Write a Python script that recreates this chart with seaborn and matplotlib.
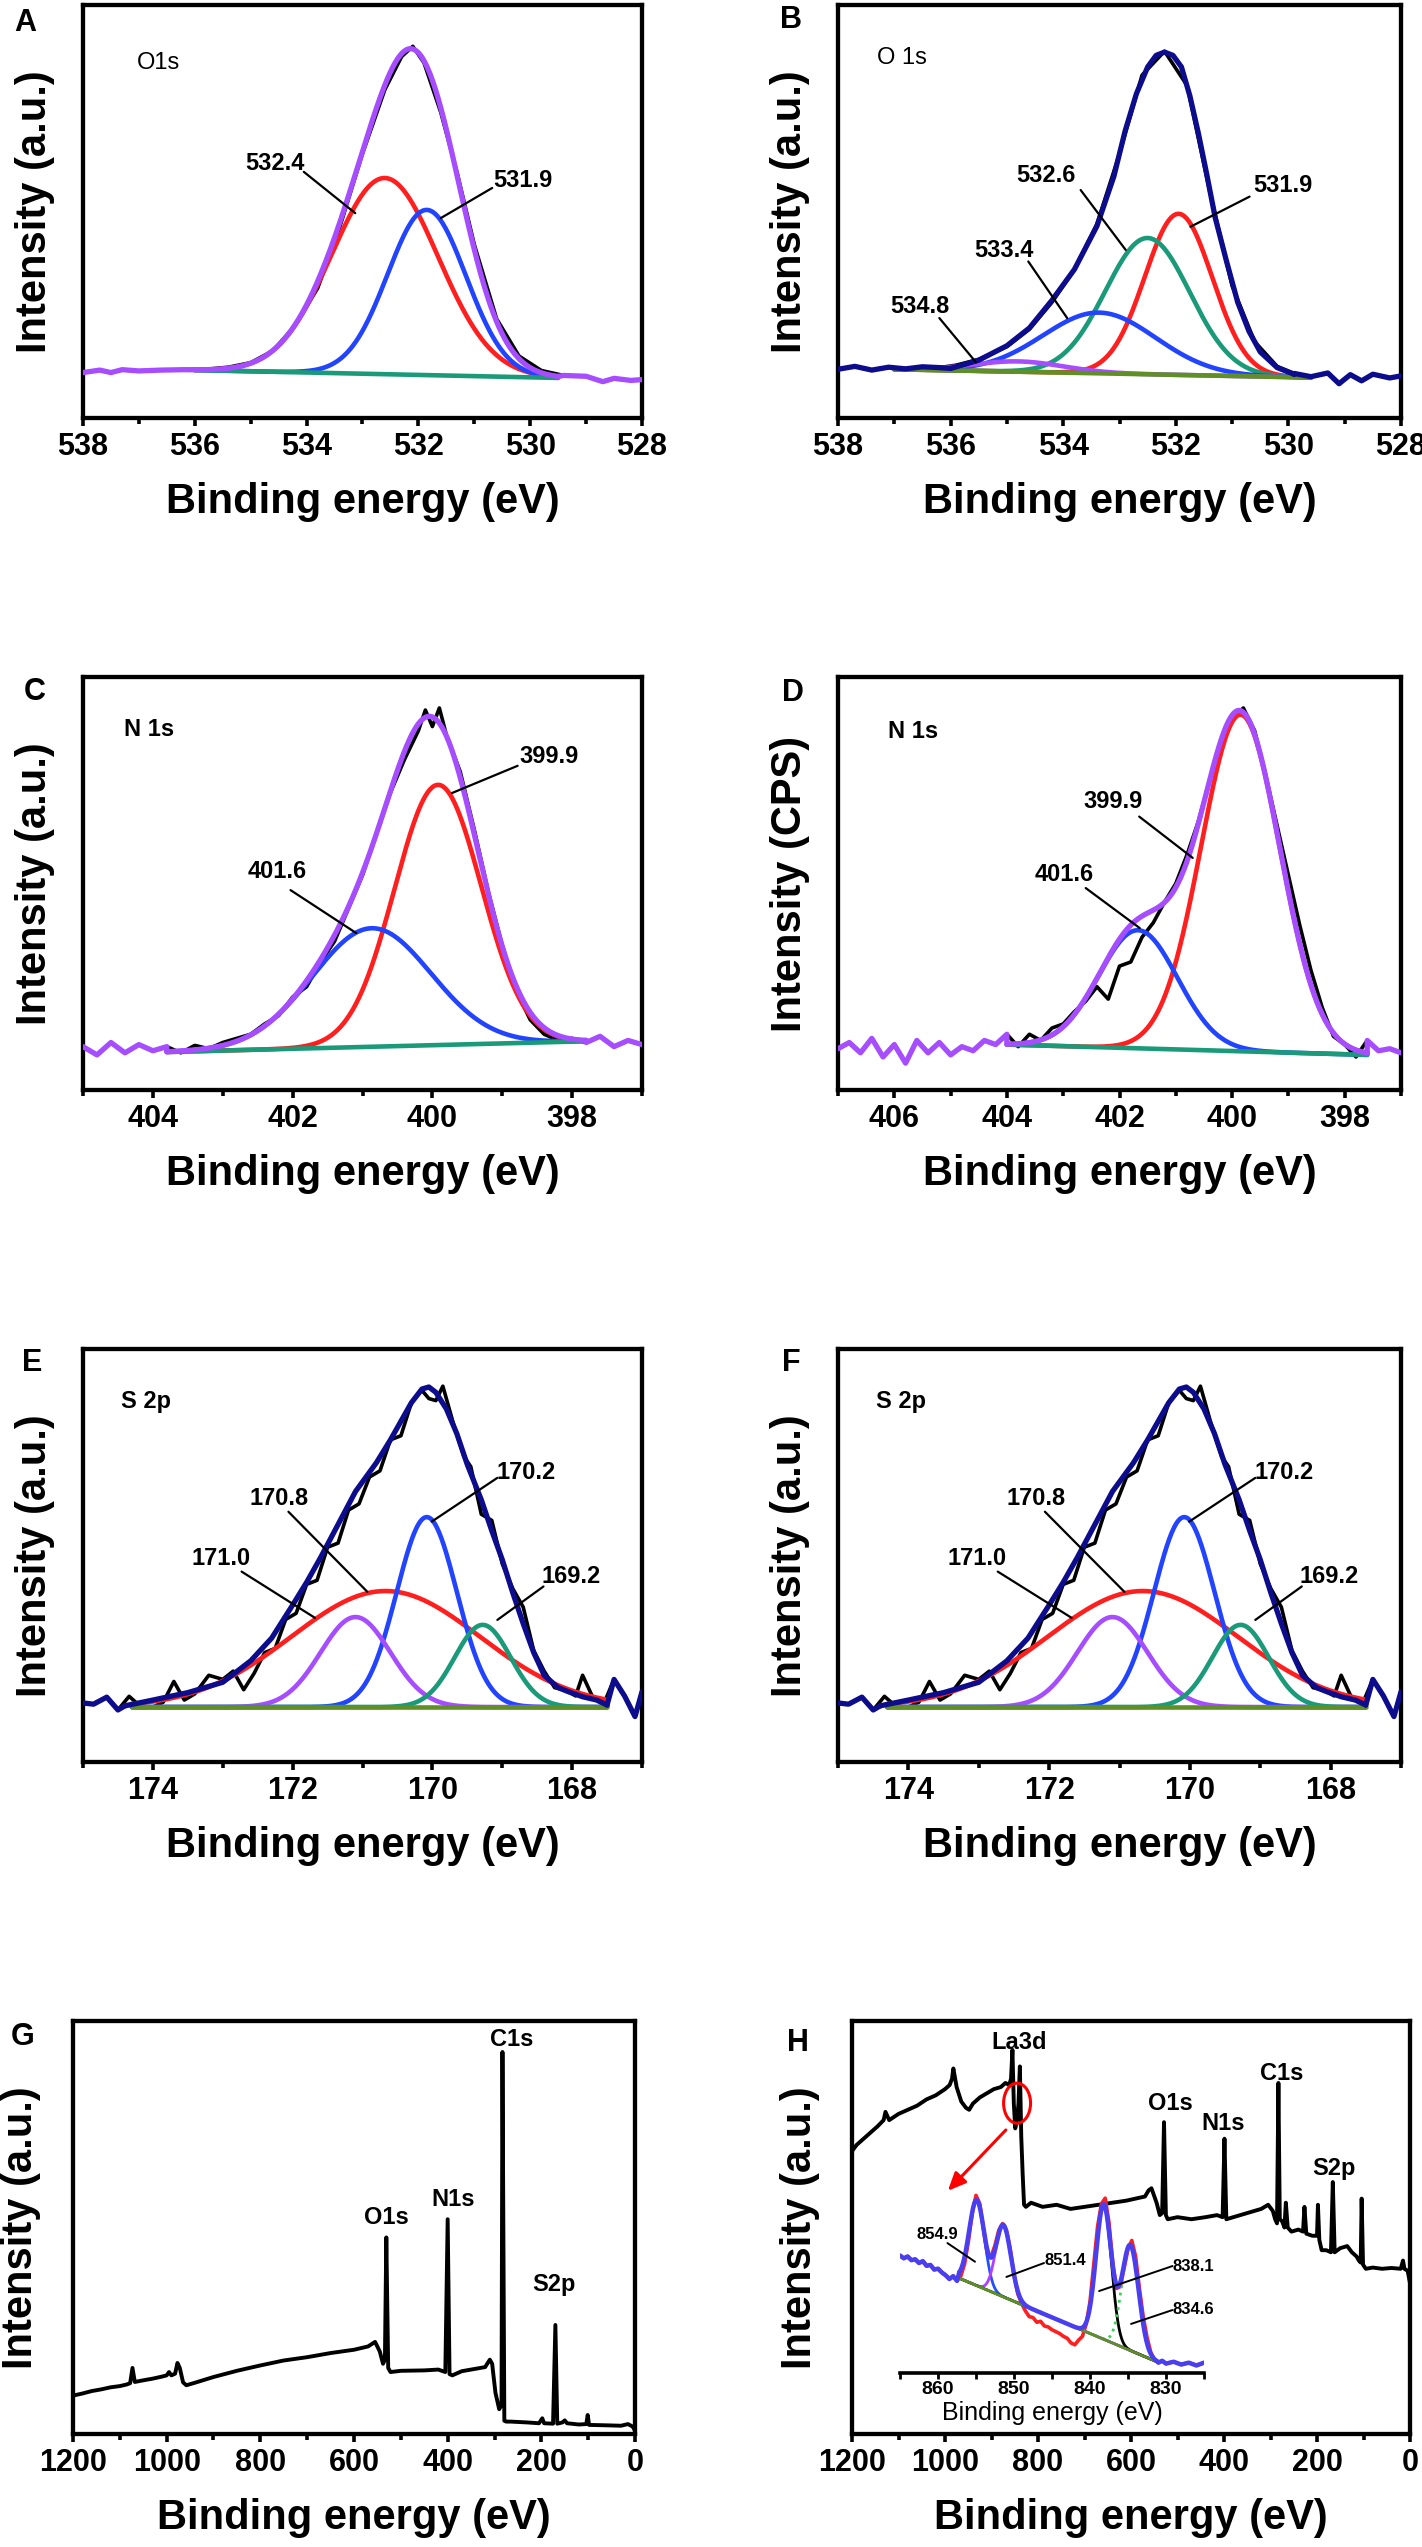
import numpy as np
import seaborn as sns
import matplotlib.pyplot as plt
from matplotlib.ticker import MultipleLocator
from matplotlib.patches import Ellipse

# Values.
# Energies in eV, intensities in percent of each panel's height.

# ---- A: O1s ----
a_raw = [(538.0, 11.0), (537.7, 11.6), (537.5, 11.0), (537.3, 11.7), (537.0, 11.4),
         (536.6, 11.6), (536.2, 11.7), (535.8, 11.8), (535.4, 12.3), (535.0, 13.4),
         (534.6, 16.3), (534.2, 22.5), (533.8, 31.5), (533.4, 46.5), (533.0, 64.0),
         (532.6, 79.5), (532.3, 87.5), (532.1, 90.0), (531.9, 86.0), (531.6, 74.0),
         (531.3, 59.0), (531.0, 42.0), (530.6, 24.0), (530.2, 15.0), (529.8, 11.5),
         (529.4, 10.3), (529.0, 10.1), (528.7, 8.8), (528.5, 9.6), (528.2, 9.1), (528.0, 9.3)]
a_labels = ['532.4', '531.9']
a_center = [532.6, 531.85]
a_height = [47.5, 40.0]
a_sigma = [0.95, 0.70]
a_base_x = [536.0, 529.5]
a_base_y = [11.6, 9.7]

# ---- B: O 1s ----
b_raw = [(538.0, 11.8), (537.7, 12.5), (537.4, 11.6), (537.1, 12.3), (536.8, 11.9),
         (536.5, 12.4), (536.2, 12.2), (535.9, 12.8), (535.5, 14.2), (535.0, 17.3),
         (534.6, 21.5), (534.2, 28.0), (533.8, 36.0), (533.4, 47.0), (533.0, 64.0),
         (532.6, 83.0), (532.2, 88.8), (531.8, 80.5), (531.4, 55.0), (531.0, 32.0),
         (530.6, 18.5), (530.2, 12.5), (529.9, 10.8), (529.6, 10.0), (529.3, 10.9),
         (529.1, 8.3), (528.9, 10.5), (528.7, 9.0), (528.5, 10.6), (528.2, 9.7), (528.0, 10.2)]
b_env = [(536.0, 12.0), (535.5, 14.0), (535.0, 17.5), (534.6, 21.8), (534.2, 28.5),
         (533.8, 36.0), (533.4, 46.5), (533.1, 58.5), (532.9, 69.5), (532.7, 78.5),
         (532.5, 85.0), (532.35, 87.8), (532.2, 88.6), (532.05, 87.8), (531.9, 85.0),
         (531.75, 78.0), (531.6, 69.0), (531.45, 59.0), (531.3, 48.5), (531.1, 38.0),
         (530.9, 28.0), (530.7, 21.0), (530.5, 16.0), (530.2, 12.2), (529.9, 10.6)]
b_labels = ['531.9', '532.6', '533.4', '534.8']
b_center = [531.95, 532.5, 533.36, 534.8]
b_height = [39.0, 33.0, 14.7, 2.5]
b_sigma = [0.60, 0.75, 1.00, 0.80]
b_base_x = [537.0, 529.6]
b_base_y = [11.8, 9.8]

# ---- C: N 1s ----
c_raw = [(405.0, 10.5), (404.8, 8.5), (404.6, 11.5), (404.4, 9.0), (404.2, 11.0),
         (404.0, 9.5), (403.8, 10.5), (403.6, 9.0), (403.4, 10.8), (403.2, 10.0),
         (403.0, 11.5), (402.8, 12.5), (402.6, 13.5), (402.4, 16.0), (402.2, 18.0),
         (402.0, 22.5), (401.8, 25.0), (401.6, 31.0), (401.4, 36.0), (401.2, 44.0),
         (401.0, 52.0), (400.8, 62.0), (400.6, 72.0), (400.4, 80.0), (400.2, 87.0),
         (400.1, 92.0), (400.0, 88.0), (399.9, 92.5), (399.8, 86.0), (399.6, 77.0),
         (399.4, 63.0), (399.2, 48.0), (399.0, 35.0), (398.8, 24.0), (398.6, 17.0),
         (398.4, 13.5), (398.2, 12.0), (398.0, 12.5), (397.8, 11.5), (397.6, 13.0),
         (397.4, 10.5), (397.2, 12.0), (397.0, 11.0)]
c_labels = ['399.9', '401.6']
c_center = [399.92, 400.87]
c_height = [63.0, 28.7]
c_sigma = [0.62, 0.85]
c_base_x = [403.8, 397.8]
c_base_y = [9.2, 11.8]

# ---- D: N 1s ----
d_raw = [(407.0, 10.0), (406.8, 11.5), (406.6, 9.0), (406.4, 12.5), (406.2, 8.0),
         (406.0, 11.0), (405.8, 6.5), (405.6, 12.0), (405.4, 9.0), (405.2, 11.5),
         (405.0, 8.5), (404.8, 10.5), (404.6, 9.5), (404.4, 12.0), (404.2, 11.0),
         (404.0, 13.5), (403.8, 10.5), (403.6, 13.5), (403.4, 12.0), (403.2, 15.0),
         (403.0, 16.0), (402.8, 19.0), (402.6, 21.5), (402.4, 25.0), (402.2, 22.0),
         (402.0, 30.0), (401.8, 31.0), (401.6, 37.0), (401.4, 40.5), (401.2, 45.5),
         (401.0, 50.0), (400.8, 57.0), (400.6, 65.0), (400.4, 75.0), (400.2, 84.0),
         (400.0, 90.0), (399.8, 92.5), (399.6, 87.0), (399.4, 76.0), (399.2, 64.0),
         (399.0, 52.0), (398.8, 40.0), (398.6, 29.0), (398.4, 20.0), (398.2, 13.0),
         (398.0, 11.0), (397.8, 8.0), (397.6, 12.0), (397.4, 9.5), (397.2, 10.0), (397.0, 9.0)]
d_labels = ['399.9', '401.6']
d_center = [399.85, 401.67]
d_height = [81.5, 28.6]
d_sigma = [0.70, 0.70]
d_base_x = [404.0, 397.6]
d_base_y = [11.0, 8.5]

# ---- E / F: S 2p (the two panels show the same spectrum) ----
e_raw = [(175.0, 14.3), (174.85, 14.0), (174.66, 15.7), (174.5, 12.6), (174.34, 15.9),
         (174.18, 13.5), (174.0, 13.3), (173.85, 14.5), (173.7, 19.5), (173.55, 15.0),
         (173.4, 16.5), (173.2, 21.0), (173.0, 20.0), (172.85, 22.0), (172.7, 17.5),
         (172.55, 21.5), (172.4, 26.5), (172.25, 27.5), (172.1, 34.5), (171.95, 36.0),
         (171.8, 43.0), (171.65, 44.0), (171.5, 52.0), (171.35, 53.0), (171.2, 61.0),
         (171.05, 62.5), (170.9, 69.0), (170.75, 70.5), (170.6, 78.0), (170.45, 79.0),
         (170.3, 87.0), (170.15, 90.0), (170.05, 88.0), (169.95, 87.5), (169.85, 91.0),
         (169.7, 82.0), (169.55, 74.0), (169.45, 71.5), (169.3, 60.0), (169.15, 58.5),
         (169.0, 48.0), (168.85, 42.0), (168.7, 37.5), (168.55, 27.0), (168.4, 22.0),
         (168.25, 18.0), (168.1, 17.5), (167.95, 16.0), (167.85, 21.0), (167.7, 15.5),
         (167.55, 14.0), (167.4, 20.0), (167.25, 16.0), (167.1, 11.0), (167.0, 17.0)]
e_env = [(174.4, 13.6), (174.0, 15.0), (173.5, 16.8), (173.0, 19.3), (172.6, 24.5),
         (172.3, 30.0), (172.0, 38.0), (171.8, 43.5), (171.6, 49.5), (171.35, 57.5),
         (171.1, 65.5), (170.8, 72.5), (170.6, 78.0), (170.45, 82.5), (170.3, 87.0),
         (170.15, 90.3), (170.05, 90.8), (169.95, 89.5), (169.8, 85.5), (169.65, 79.5),
         (169.5, 72.0), (169.3, 63.5), (169.15, 56.0), (169.0, 49.0), (168.85, 41.0),
         (168.7, 33.5), (168.55, 26.5), (168.4, 21.0), (168.2, 18.0), (168.05, 17.0),
         (167.85, 15.8), (167.65, 15.0), (167.5, 13.8)]
e_labels = ['170.8', '170.2', '171.0', '169.2']
e_center = [170.67, 170.08, 171.1, 169.28]
e_height = [28.1, 46.0, 21.8, 19.9]
e_sigma = [1.35, 0.43, 0.50, 0.40]
e_base_x = [174.3, 167.5]
e_base_y = [13.3, 13.3]
f_raw, f_env = e_raw, e_env

# ---- G: survey ----
g_survey = [(1200, 9.3), (1180, 9.8), (1160, 10.4), (1140, 10.8), (1120, 11.3), (1100, 11.6),
            (1085, 12.0), (1078, 12.3), (1073, 16.0), (1068, 12.6), (1050, 13.0), (1030, 13.4),
            (1010, 13.9), (1000, 14.2), (995, 15.0), (990, 14.2), (982, 14.6), (977, 17.2),
            (972, 16.0), (965, 12.5), (958, 11.8), (940, 12.4), (900, 13.8), (850, 15.3),
            (800, 16.6), (750, 17.8), (700, 18.6), (650, 19.6), (600, 20.4), (570, 21.2),
            (555, 22.3), (545, 20.0), (538, 17.0), (534, 18.0), (531, 47.6), (527, 16.0),
            (522, 15.0), (500, 15.3), (450, 15.4), (420, 15.6), (405, 15.0), (400, 52.0),
            (396, 14.5), (390, 14.2), (370, 15.2), (340, 15.8), (320, 16.2), (310, 18.0),
            (305, 17.0), (298, 10.0), (290, 6.0), (285, 7.0), (283, 92.5), (279, 3.2),
            (275, 3.0), (265, 3.0), (230, 2.8), (205, 2.6), (198, 3.8), (194, 2.6),
            (175, 2.5), (170, 26.4), (166, 2.5), (155, 2.8), (150, 3.3), (145, 2.6),
            (120, 2.3), (104, 2.4), (101, 4.6), (98, 2.2), (60, 2.1), (30, 2.0),
            (15, 2.4), (5, 1.8), (0, 0.8)]
g_peaks = ['O1s', 'N1s', 'C1s', 'S2p']

# ---- H: survey with La3d inset ----
h_survey = [(1200, 68.5), (1190, 70.0), (1175, 71.5), (1160, 73.0), (1145, 74.5), (1132, 76.0),
            (1128, 78.0), (1120, 76.0), (1100, 77.5), (1080, 78.5), (1060, 79.5), (1040, 81.0),
            (1020, 82.0), (1000, 83.5), (990, 84.5), (985, 86.0), (982, 88.5), (975, 84.0),
            (965, 80.5), (955, 79.0), (948, 78.5), (940, 80.0), (925, 81.5), (910, 82.5),
            (895, 83.5), (880, 84.0), (870, 85.0), (862, 84.5), (858, 86.0), (855, 93.0),
            (852, 80.0), (849, 74.0), (845, 76.0), (842, 80.0), (839, 89.0), (836, 72.0),
            (833, 63.0), (830, 55.5), (826, 55.0), (815, 56.0), (790, 55.0), (760, 55.5),
            (730, 54.5), (700, 55.0), (670, 55.5), (640, 56.0), (610, 56.5), (590, 57.0),
            (570, 57.5), (562, 59.0), (556, 59.5), (545, 56.0), (538, 53.0), (533, 53.5),
            (529, 75.5), (525, 53.0), (521, 52.0), (500, 52.5), (470, 52.0), (440, 52.5),
            (415, 53.0), (403, 52.5), (399, 71.5), (395, 52.0), (380, 52.5), (350, 53.5),
            (320, 54.5), (305, 55.5), (295, 54.0), (290, 52.0), (286, 51.0), (283, 85.0),
            (280, 52.0), (275, 51.5), (270, 50.0), (267, 56.0), (263, 50.0), (255, 49.0),
            (240, 49.5), (230, 49.0), (227, 55.0), (223, 48.5), (210, 48.0), (200, 48.0),
            (198, 55.5), (195, 47.0), (190, 44.5), (180, 44.5), (170, 44.0), (166, 61.0),
            (162, 44.0), (150, 45.0), (135, 45.5), (125, 44.0), (115, 43.0), (110, 42.0),
            (106, 41.5), (104, 57.0), (101, 41.0), (95, 40.0), (80, 40.3), (60, 40.0),
            (40, 40.2), (20, 40.0), (15, 42.0), (12, 40.0), (5, 39.5), (0, 36.5)]
h_peaks = ['La3d', 'O1s', 'N1s', 'C1s', 'S2p']

# La3d inset (percent of inset height)
la_raw = [(865.0, 62.5), (864.5, 61.0), (864.0, 62.0), (863.5, 60.0), (863.0, 60.5),
          (862.5, 58.5), (862.0, 59.5), (861.5, 57.0), (861.0, 57.5), (860.5, 55.0),
          (860.0, 55.5), (859.5, 53.5), (859.0, 52.0), (858.5, 50.0), (858.0, 51.5),
          (857.5, 49.0), (857.0, 51.5), (856.5, 58.0), (856.0, 70.0), (855.5, 85.0),
          (855.0, 94.5), (854.5, 90.0), (854.0, 76.0), (853.5, 63.0), (853.0, 62.0),
          (852.5, 68.0), (852.0, 76.0), (851.5, 79.5), (851.0, 76.0), (850.5, 66.0),
          (850.0, 52.0), (849.5, 42.0), (849.0, 37.0), (848.5, 33.0), (848.0, 30.0),
          (847.5, 29.5), (847.0, 27.0), (846.5, 27.5), (846.0, 25.0), (845.5, 24.5),
          (845.0, 23.0), (844.5, 22.0), (844.0, 21.0), (843.5, 19.5), (843.0, 18.5),
          (842.5, 16.0), (842.0, 15.0), (841.5, 17.5), (841.0, 19.5), (840.5, 26.0),
          (840.0, 38.0), (839.5, 58.0), (839.0, 78.0), (838.5, 90.0), (838.0, 93.0),
          (837.5, 80.0), (837.0, 58.0), (836.5, 45.0), (836.0, 46.0), (835.5, 56.0),
          (835.0, 66.0), (834.5, 70.5), (834.0, 62.0), (833.5, 45.0), (833.0, 30.0),
          (832.5, 19.0), (832.0, 11.0), (831.5, 7.0), (831.0, 5.5), (830.5, 6.5),
          (830.0, 5.0), (829.0, 6.0), (828.0, 4.5), (827.0, 5.5), (826.0, 4.0), (825.0, 5.5)]
la_labels = ['854.9', '851.4', '838.1', '834.6']
la_center = [854.9, 851.4, 838.2, 834.7]
la_height = [45.5, 38.2, 71.5, 56.0]
la_sigma = [1.0, 1.0, 1.0, 1.1]
la_base_x = [857.2, 831.2]
la_base_y = [50.4, 6.0]

# ---- colours ----
RED, BLUE, PURPLE = '#ff1f1f', '#2244ff', '#a64dff'
NAVY, TEAL, OLIVE = '#0c0c8c', '#1a9a78', '#5f8f25'

sns.set_theme(style='ticks')
plt.rcParams['font.family'] = ['Liberation Sans', 'DejaVu Sans']
plt.rcParams.update({'font.weight': 'bold', 'axes.labelweight': 'bold',
                     'text.color': 'black', 'axes.labelcolor': 'black',
                     'xtick.color': 'black', 'axes.edgecolor': 'black'})

W, H = 1422, 2547
fig = plt.figure(figsize=(W / 100, H / 100), dpi=100)


def box(x0, y0, x1, y1):
    return fig.add_axes([x0 / W, 1 - y1 / H, (x1 - x0) / W, (y1 - y0) / H])


def line(ax, x, y, color, lw, z=3, **kw):
    sns.lineplot(x=list(x), y=list(y), ax=ax, color=color, linewidth=lw,
                 estimator=None, sort=False, zorder=z, **kw)


def gauss(x, c, h, s):
    return h * np.exp(-(x - c) ** 2 / (2 * s * s))


def fit_panel(ax, raw, base_x, base_y, centers, heights, sigmas, colors, env_color,
              base_color, env=None, raw_color='black', raw_lw=2.6, comp_lw=3.3, env_lw=3.8,
              comp_styles=None):
    rx, ry = map(np.asarray, zip(*raw))
    line(ax, rx, ry, raw_color, raw_lw, z=2)
    lo, hi = min(base_x), max(base_x)
    grid = np.linspace(hi, lo, 400)
    order = np.argsort(base_x)
    base = np.interp(grid, np.asarray(base_x)[order], np.asarray(base_y)[order])
    total = base.copy()
    for i, (c, h, s, col) in enumerate(zip(centers, heights, sigmas, colors)):
        g = gauss(grid, c, h, s)
        total += g
        kw = {}
        if comp_styles and comp_styles[i]:
            kw['linestyle'] = comp_styles[i]
        line(ax, grid, base + g, col, comp_lw, z=3, **kw)
    line(ax, grid, base, base_color, comp_lw, z=3)
    if env is None:
        ex, ey = grid, total
    else:
        ex, ey = map(np.asarray, zip(*env))
    e_hi, e_lo = ex.max(), ex.min()
    left, right = rx >= e_hi, rx <= e_lo
    line(ax, np.r_[rx[left], e_hi], np.r_[ry[left], ey[ex.argmax()]], env_color, env_lw, z=4)
    line(ax, np.r_[e_lo, rx[right]], np.r_[ey[ex.argmin()], ry[right]], env_color, env_lw, z=4)
    line(ax, ex, ey, env_color, env_lw, z=4)


def style(ax, xlim, major, minor, ylabel, ylab_x=-0.086):
    ax.set_xlim(*xlim)
    ax.set_ylim(0, 100)
    ax.set_yticks([])
    ax.xaxis.set_major_locator(MultipleLocator(major))
    ax.xaxis.set_minor_locator(MultipleLocator(minor))
    ax.tick_params(axis='x', which='major', direction='out', length=6, width=2.6,
                   labelsize=22, pad=4, bottom=True, top=False, color='black')
    ax.tick_params(axis='x', which='minor', direction='out', length=4, width=2.6,
                   bottom=True, top=False, color='black')
    for sp in ax.spines.values():
        sp.set_visible(True)
        sp.set_linewidth(3.1)
        sp.set_color('black')
    ax.set_xlabel('Binding energy (eV)', fontsize=30, fontweight='bold')
    ax.set_ylabel(ylabel, fontsize=30, fontweight='bold')
    ax.xaxis.set_label_coords(0.5, -0.155)
    ax.yaxis.set_label_coords(ylab_x, 0.5)
    ax.yaxis.label.set_va('center')


def notes(ax, items, size=17, lw=1.6):
    for lab, tx, ty, x1, y1, x2, y2 in items:
        ax.text(tx, ty, lab, ha='center', va='center', fontsize=size,
                fontweight='bold', zorder=6)
        ax.plot([x1, x2], [y1, y2], color='black', lw=lw, zorder=6)


def letter(ch, x, y):
    fig.text(x / W, 1 - y / H, ch, ha='center', va='center', fontsize=22, fontweight='bold')


# ---- A ----
ax = box(83, 5, 642, 418)
fit_panel(ax, a_raw, a_base_x, a_base_y, a_center, a_height, a_sigma, [RED, BLUE],
          PURPLE, TEAL)
style(ax, (538, 528), 2, 1, 'Intensity (a.u.)')
ax.text(537.03, 85.9, 'O1s', ha='left', va='center', fontsize=17, fontweight='normal')
notes(ax, [(a_labels[0], 534.56, 61.7, 534.05, 59.6, 533.13, 49.6),
           (a_labels[1], 530.13, 57.6, 530.68, 55.7, 531.6, 48.4)])
letter('A', 25, 23)

# ---- B ----
ax = box(838, 5, 1401, 418)
fit_panel(ax, b_raw, b_base_x, b_base_y, b_center, b_height, b_sigma,
          [RED, TEAL, BLUE, PURPLE], NAVY, OLIVE, env=b_env)
style(ax, (538, 528), 2, 1, 'Intensity (a.u.)', ylab_x=-0.085)
ax.text(537.3, 87.1, 'O 1s', ha='left', va='center', fontsize=17, fontweight='normal')
notes(ax, [(b_labels[1], 534.3, 58.8, 533.69, 55.2, 532.89, 40.7),
           (b_labels[0], 530.1, 56.4, 530.69, 53.6, 531.74, 46.3),
           (b_labels[2], 535.05, 40.5, 534.62, 37.9, 533.93, 24.2),
           (b_labels[3], 536.54, 27.1, 536.2, 24.2, 535.55, 13.5)])
letter('B', 791, 20)

# ---- C ----
ax = box(83, 677, 642, 1090)
fit_panel(ax, c_raw, c_base_x, c_base_y, c_center, c_height, c_sigma, [RED, BLUE],
          PURPLE, TEAL)
style(ax, (405, 397), 2, 1, 'Intensity (a.u.)')
ax.text(404.41, 87.2, 'N 1s', ha='left', va='center', fontsize=17)
notes(ax, [(c_labels[0], 398.33, 80.7, 398.78, 78.5, 399.72, 71.9),
           (c_labels[1], 402.22, 52.8, 402.03, 48.4, 401.09, 38.0)])
letter('C', 35, 692)

# ---- D ----
ax = box(838, 677, 1401, 1090)
fit_panel(ax, d_raw, d_base_x, d_base_y, d_center, d_height, d_sigma, [RED, BLUE],
          PURPLE, TEAL)
style(ax, (407, 397), 2, 1, 'Intensity (CPS)', ylab_x=-0.085)
ax.text(406.11, 86.8, 'N 1s', ha='left', va='center', fontsize=17)
notes(ax, [(d_labels[0], 402.12, 69.8, 401.65, 66.2, 400.7, 56.2),
           (d_labels[1], 402.99, 52.1, 402.6, 48.9, 401.64, 39.2)])
letter('D', 793, 693)

# ---- E and F ----
s2p_notes = [(e_labels[1], 168.66, 70.0, 169.07, 68.8, 170.01, 58.2),
             (e_labels[0], 172.19, 63.7, 172.06, 60.6, 170.93, 41.2),
             (e_labels[2], 173.02, 49.2, 172.73, 46.1, 171.68, 34.9),
             (e_labels[3], 168.02, 45.0, 168.41, 42.5, 169.07, 34.4)]
for (x0, x1), raw, env, ch, lx, yx in [((83, 642), e_raw, e_env, 'E', 32, -0.086),
                                        ((838, 1401), f_raw, f_env, 'F', 791, -0.085)]:
    ax = box(x0, 1349, x1, 1762)
    fit_panel(ax, raw, e_base_x, e_base_y, e_center, e_height, e_sigma,
              [RED, BLUE, PURPLE, TEAL], NAVY, OLIVE, env=env)
    style(ax, (175, 167), 2, 1, 'Intensity (a.u.)', ylab_x=yx)
    ax.text(174.46, 87.2, 'S 2p', ha='left', va='center', fontsize=17)
    notes(ax, s2p_notes)
    letter(ch, lx, 1363)

# ---- G ----
ax = box(73, 2021, 635, 2434)
gx, gy = zip(*g_survey)
line(ax, gx, gy, 'black', 2.8)
style(ax, (1200, 0), 200, 100, 'Intensity (a.u.)', ylab_x=-0.093)
for lab, x, y in zip(g_peaks, [531, 388, 264, 172], [52.5, 56.9, 95.4, 36.3]):
    ax.text(x, y, lab, ha='center', va='center', fontsize=17)
letter('G', 23, 2037)

# ---- H ----
ax = box(852, 2021, 1410, 2434)
hx, hy = zip(*h_survey)
line(ax, hx, hy, 'black', 2.8)
style(ax, (1200, 0), 200, 100, 'Intensity (a.u.)', ylab_x=-0.093)
for lab, x, y in zip(h_peaks, [841, 516, 402, 277, 163], [94.9, 80.1, 75.1, 87.4, 64.2]):
    ax.text(x, y, lab, ha='center', va='center', fontsize=17)
ax.add_patch(Ellipse((845, 80.1), 58, 9.7, fill=False, ec='red', lw=2.2, zorder=5))
ax.annotate('', xy=(998, 58.4), xytext=(865, 74.1),
            arrowprops=dict(arrowstyle='-|>,head_length=0.9,head_width=0.4',
                            color='red', lw=2.2))
letter('H', 798, 2043)

axi = box(900, 2185, 1204, 2373)
axi.patch.set_alpha(0)
fit_panel(axi, la_raw, la_base_x, la_base_y, la_center, la_height, la_sigma,
          ['#2050ff', '#b040ff', 'black', '#3ccf5a'], '#4a3ff0', OLIVE,
          raw_color=RED, raw_lw=2.6, comp_lw=2.0, env_lw=3.2,
          comp_styles=[None, None, None, ':'])
axi.set_xlim(865, 825)
axi.set_ylim(0, 100)
axi.set_yticks([])
for s in ['top', 'left', 'right']:
    axi.spines[s].set_visible(False)
axi.spines['bottom'].set_linewidth(2.6)
axi.spines['bottom'].set_color('black')
axi.xaxis.set_major_locator(MultipleLocator(10))
axi.xaxis.set_minor_locator(MultipleLocator(5))
axi.tick_params(axis='x', which='both', direction='out', length=4, width=2,
                labelsize=14, pad=2, bottom=True, color='black')
axi.set_xlabel('Binding energy (eV)', fontsize=18, fontweight='normal', labelpad=2)
notes(axi, [(la_labels[0], 860.08, 73.9, 858.76, 69.1, 855.13, 59.2),
            (la_labels[1], 843.31, 60.1, 846.05, 58.5, 851.0, 51.1),
            (la_labels[2], 826.4, 56.9, 829.14, 56.9, 838.8, 43.6),
            (la_labels[3], 826.4, 34.0, 829.14, 33.5, 834.6, 26.1)], size=12, lw=1.4)

fig.savefig('out.png', dpi=100)
